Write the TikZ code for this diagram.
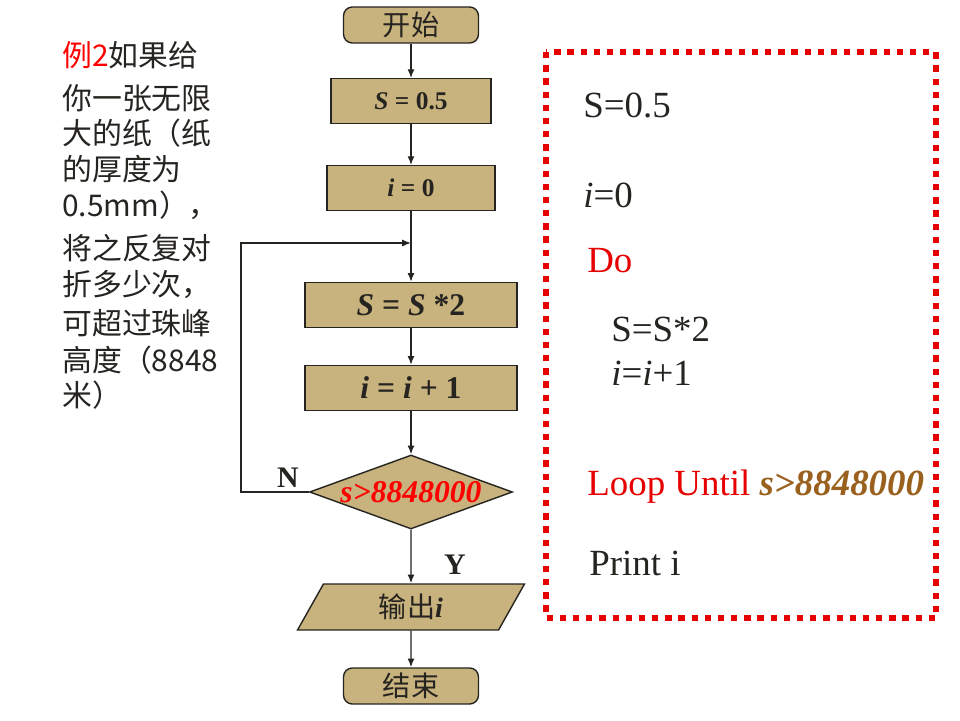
\documentclass[tikz,border=0pt]{standalone}
\usepackage{fontspec}
\setmainfont{Liberation Serif}
\newfontfamily\cjk{Noto Sans CJK SC}
\usetikzlibrary{shapes.geometric,arrows.meta}

\definecolor{boxtan}{RGB}{200,178,125}
\definecolor{inkgray}{RGB}{38,36,32}
\definecolor{loopred}{RGB}{230,0,0}
\definecolor{condbrown}{RGB}{153,96,30}

\tikzset{
  flowbox/.style={draw=inkgray, fill=boxtan, line width=0.8pt, inner sep=0pt, text=inkgray},
  termbox/.style={flowbox, rounded corners=5pt, minimum width=2.7cm, minimum height=0.72cm,
    font=\cjk\fontsize{16}{18}\selectfont},
  smallbox/.style={flowbox, minimum height=0.89cm, font=\bfseries\fontsize{14.5}{16}\selectfont},
  bigbox/.style={flowbox, minimum width=4.24cm, minimum height=0.9cm, font=\bfseries\fontsize{18}{20}\selectfont},
  condbox/.style={flowbox, diamond, minimum width=4.06cm, minimum height=1.48cm,
    text=red, font=\bfseries\itshape\fontsize{18}{20}\selectfont},
  outbox/.style={flowbox, trapezium, trapezium left angle=45, trapezium right angle=135,
    trapezium stretches body, minimum width=4.54cm, minimum height=0.92cm,
    font=\cjk\fontsize{16}{18}\selectfont},
  yesno/.style={text=inkgray, font=\bfseries\fontsize{17}{19}\selectfont},
  flowline/.style={draw=inkgray, line width=0.8pt},
  codeline/.style={anchor=base west, inner sep=0pt, text=inkgray, font=\fontsize{21}{24}\selectfont},
  storyline/.style={anchor=west, inner sep=0pt, text=inkgray, font=\cjk\fontsize{17}{20}\selectfont},
}

\begin{document}
\begin{tikzpicture}[x=0.02cm, y=-0.02cm, >={Latex[length=5pt,width=4pt]}]
    \useasboundingbox (0,0) rectangle (960,720);

    % the question on the left
    \node[storyline] (q1)  at (62,55)  {\textcolor{red}{例2}如果给};
    \node[storyline] (q2)  at (62,98)  {你一张无限};
    \node[storyline] (q3)  at (62,133) {大的纸（纸};
    \node[storyline] (q4)  at (62,169) {的厚度为};
    \node[storyline] (q5)  at (62,205) {0.5mm），};
    \node[storyline] (q6)  at (62,248) {将之反复对};
    \node[storyline] (q7)  at (62,285) {折多少次，};
    \node[storyline] (q8)  at (62,323) {可超过珠峰};
    \node[storyline] (q9)  at (62,360) {高度（8848};
    \node[storyline] (q10) at (62,395) {米）};

    % flowchart
    \node[termbox] (start) at (411,25) {开始};
    \node[smallbox, minimum width=3.2cm]  (s05) at (411,101) {\textit{S} = 0.5};
    \node[smallbox, minimum width=3.36cm] (i0)  at (411,188) {\textit{i} = 0};
    \node[bigbox] (sdbl) at (411,305) {\textit{S} = \textit{S} *2};
    \node[bigbox] (inc)  at (411,388) {\textit{i} = \textit{i} + 1};
    \node[condbox] (cond) at (411,492) {\makebox[0pt]{s>8848000}};
    \node[outbox] (out) at (411,607) {输出{\rmfamily\bfseries\itshape i}};
    \node[termbox] (stop) at (411,686) {结束};

    \node[yesno] (nlab) at (288,478) {N};
    \node[yesno] (ylab) at (455,565) {Y};

    \coordinate (join) at (411,243);
    \coordinate (loopcorner) at (241,492);

    \draw[flowline, ->] (start) -- (s05);
    \draw[flowline, ->] (s05) -- (i0);
    \draw[flowline, ->] (i0) -- (sdbl);
    \draw[flowline, ->] (sdbl) -- (inc);
    \draw[flowline, ->] (inc) -- (cond);
    \draw[flowline, ->] (cond) -- (out);
    \draw[flowline, ->] (out) -- (stop);
    \draw[flowline, ->] (cond.west) -- (loopcorner) |- (join);

    % the program in the dotted box
    \draw[loopred, line width=3.4pt, dash pattern=on 3.6pt off 3.9pt] (546,52) rectangle (936,618);

    \node[codeline] (c1) at (583,117) {S=0.5};
    \node[codeline] (c2) at (583,207) {\textit{i}=0};
    \node[codeline, text=loopred] (c3) at (587,272) {Do};
    \node[codeline] (c4) at (611,341) {S=S*2};
    \node[codeline] (c5) at (611,385) {\textit{i}=\textit{i}+1};
    \node[codeline, text=loopred] (c6) at (587,495) {Loop Until \textcolor{condbrown}{\bfseries\itshape s>8848000}};
    \node[codeline] (c7) at (589,575) {Print i};

\end{tikzpicture}
\end{document}
